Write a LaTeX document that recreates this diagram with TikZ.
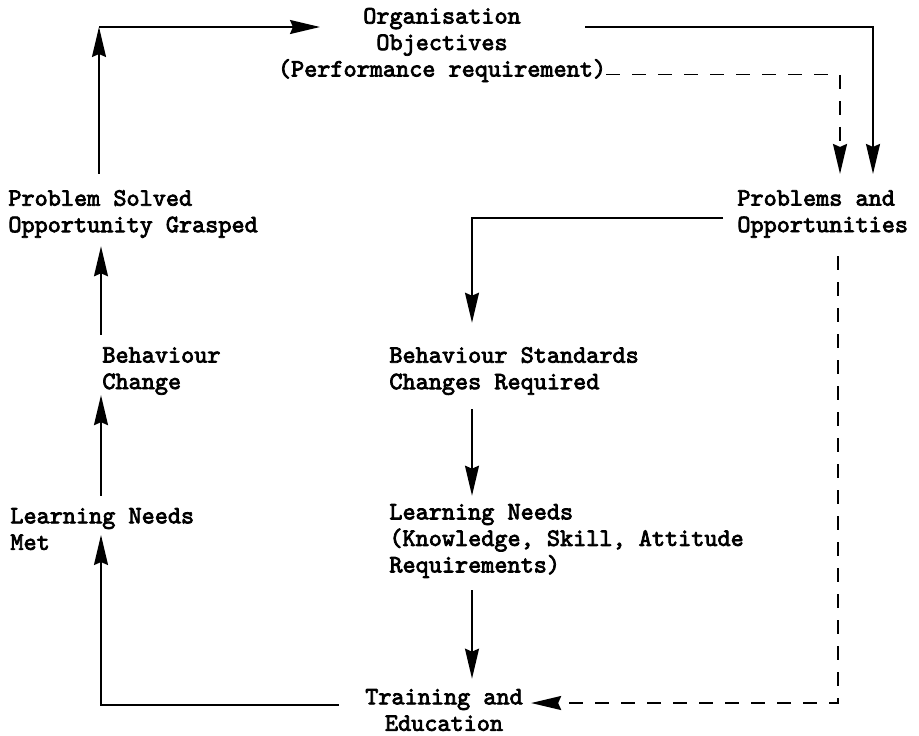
\documentclass[tikz,border=0pt]{standalone}
\usepackage{fontspec}
\newfontfamily\diagfont{lmmono10-regular.otf}[FakeBold=3]
\usetikzlibrary{arrows.meta}

\begin{document}
\begin{tikzpicture}[x=0.5pt, y=-0.5pt,
		box/.style={inner sep=0pt, align=left, anchor=west, font=\fontsize{12.5}{13.25}\selectfont\diagfont},
		arr/.style={-{Stealth[length=15pt, width=7pt, inset=1.5pt]}, line width=0.9pt},
		darr/.style={arr, dash pattern=on 7pt off 6pt}]
		\useasboundingbox (0,0) rectangle (919,735);
		
		%Nodes
		\node[box, align=center, anchor=center] (org) at (442,45) {Organisation\\Objectives\\(Performance requirement)};
		\node[box] (probs) at (737,214) {Problems and\\Opportunities};
		\node[box] (solved) at (8,214) {Problem Solved\\Opportunity Grasped};
		\node[box] (bchange) at (102,371) {Behaviour\\Change};
		\node[box] (bstd) at (389,371) {Behaviour Standards\\Changes Required};
		\node[box] (lmet) at (10,529) {Learning Needs\\Met};
		\node[box] (lneeds) at (389,541) {Learning Needs\\(Knowledge, Skill, Attitude\\Requirements)};
		\node[box, align=center, anchor=center] (train) at (444,710) {Training and\\Education};
		
		%Corners
		\coordinate (lcol) at (101,0);
		\coordinate (mcol) at (472,0);
		\coordinate (tl) at (99,27);
		\coordinate (orgin) at (320,27);
		\coordinate (orgout) at (585,27);
		\coordinate (rsol) at (873,27);
		\coordinate (rdash) at (840,72);
		\coordinate (br) at (838,703);
		\coordinate (bl) at (102,705);
		
		%Arrows
		\draw[arr, shorten <=8pt] (solved.north -| tl) -- (tl);
		\draw[arr] (tl) -- (orgin);
		\draw[arr, shorten >=8pt] (orgout) -| (probs.north -| rsol);
		\draw[darr, shorten >=8pt] ([yshift=4pt]org.south east) -| (probs.north -| rdash);
		\draw[arr, shorten <=7pt, shorten >=12pt] ([yshift=-2pt]probs.west) -| (bstd.north -| mcol);
		\draw[arr, shorten <=7pt, shorten >=4pt] (bstd.south -| mcol) -- (lneeds.north -| mcol);
		\draw[arr, shorten <=6pt, shorten >=5pt] (lneeds.south -| mcol) -- (train.north -| mcol);
		\draw[darr, shorten <=9pt, shorten >=4pt] (probs.south -| br) |- (train.east |- br);
		\draw[arr, shorten <=13pt] (train.west |- bl) -| ([yshift=-3pt]lmet.center -| lcol);
		\draw[arr, shorten <=6pt] (lmet.north -| lcol) -- (bchange.south -| lcol);
		\draw[arr, shorten <=6pt, shorten >=4pt] (bchange.north -| lcol) -- (solved.south -| lcol);
	\end{tikzpicture}
\end{document}
